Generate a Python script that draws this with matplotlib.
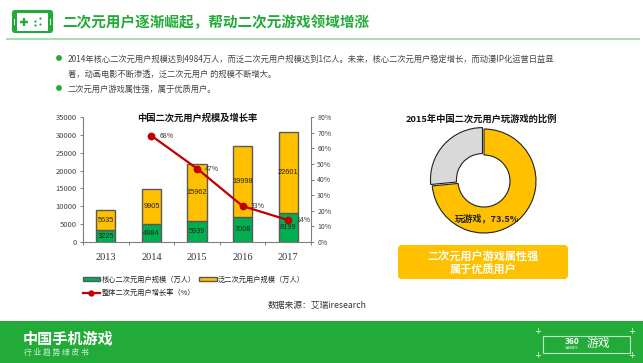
import matplotlib
matplotlib.use("Agg")
import matplotlib.pyplot as plt
from matplotlib.lines import Line2D
from matplotlib.patches import FancyBboxPatch, Circle, Rectangle, Patch

plt.rcParams["font.family"] = ["Noto Sans CJK SC", "DejaVu Sans"]

W, H = 643, 363

years = ["2013", "2014", "2015", "2016", "2017"]
core_users = [3225, 4984, 5939, 7008, 8199]
pan_users = [5635, 9905, 15962, 19998, 22601]
rate_years = [1, 2, 3, 4]
growth_rate = [68, 47, 23, 14]
left_ticks = [0, 5000, 10000, 15000, 20000, 25000, 30000, 35000]
right_ticks = [0, 10, 20, 30, 40, 50, 60, 70, 80]
share_values = [73.5, 26.5]

GREEN = "#22AB38"
BAR_GREEN = "#00B050"
YELLOW = "#FFC000"
RED = "#C00000"
GREY = "#7F7F7F"


def axes_px(fig, x0, y0, x1, y1, **kwargs):
    # pixel box, y measured from the top of the image
    return fig.add_axes([x0 / W, 1 - y1 / H, (x1 - x0) / W, (y1 - y0) / H], **kwargs)


fig = plt.figure(figsize=(W / 100, H / 100), dpi=100, facecolor="white")

# bar + line chart
ax = axes_px(fig, 83, 117, 311, 242)
x = range(len(years))
ax.bar(x, core_users, width=0.42, color=BAR_GREEN, edgecolor="#595959", linewidth=1, zorder=2)
ax.bar(x, pan_users, width=0.42, bottom=core_users, color=YELLOW, edgecolor="#595959",
       linewidth=1, zorder=2)
for i in x:
    ax.text(i, core_users[i] / 2, str(core_users[i]), ha="center", va="center", fontsize=5.3,
            color="#222222", family=["Liberation Sans"], zorder=6)
    ax.text(i, core_users[i] + pan_users[i] / 2, str(pan_users[i]), ha="center", va="center",
            fontsize=5.3, color="#222222", family=["Liberation Sans"], zorder=6)
ax.set_xlim(-0.5, 4.5)
ax.set_ylim(0, 35000)
ax.set_yticks(left_ticks)
ax.tick_params(axis="y", labelsize=5.5, length=2.5, width=0.7, color=GREY, labelcolor="#444444", pad=2)
ax.set_xticks(list(x))
ax.set_xticklabels(years, family=["Liberation Serif"], fontsize=7.5, color="#333333")
ax.tick_params(axis="x", length=0, pad=8)
ax.set_xticks([-0.5, 0.5, 1.5, 2.5, 3.5, 4.5], minor=True)
ax.tick_params(axis="x", which="minor", length=2.5, width=0.7, color=GREY)
ax.spines["top"].set_visible(False)
ax.spines["right"].set_visible(False)
for s in ["left", "bottom"]:
    ax.spines[s].set_color(GREY)
    ax.spines[s].set_linewidth(0.8)

ax2 = ax.twinx()
ax2.plot(rate_years, growth_rate, color=RED, linewidth=1.6, marker="o", markersize=4.6, zorder=5)
for i, r in zip(rate_years, growth_rate):
    ax2.annotate(f"{r}%", (i, r), xytext=(6, 0), textcoords="offset points", fontsize=5,
                 va="center", color="#333333")
ax2.set_ylim(0, 80)
ax2.set_yticks(right_ticks)
ax2.set_yticklabels([f"{t}%" for t in right_ticks])
ax2.tick_params(axis="y", labelsize=5, length=2.5, width=0.7, color=GREY, labelcolor="#444444", pad=2)
ax2.spines["top"].set_visible(False)
ax2.spines["left"].set_visible(False)
ax2.spines["bottom"].set_visible(False)
ax2.spines["right"].set_color(GREY)
ax2.spines["right"].set_linewidth(0.8)

handles = [
    Patch(facecolor=BAR_GREEN, edgecolor="#595959", label="核心二次元用户规模（万人）"),
    Line2D([], [], color=RED, linewidth=1.6, marker="o", markersize=3.5, label="整体二次元用户增长率（%）"),
    Patch(facecolor=YELLOW, edgecolor="#595959", label="泛二次元用户规模（万人）"),
]
fig.legend(handles=handles, ncol=2, frameon=False, fontsize=5.2, loc="upper left",
           bbox_to_anchor=(79 / W, 1 - 272 / H), handlelength=2.4, handleheight=0.5,
           columnspacing=0.5, labelspacing=0.75, handletextpad=0.2, borderpad=0, labelcolor="#222222")

# donut
ax3 = axes_px(fig, 484 - 57.2, 181 - 57.2, 484 + 57.2, 181 + 57.2)
ax3.pie(share_values, colors=[YELLOW, "#D9D9D9"], startangle=90, counterclock=False, radius=1,
        explode=[0, 0.04], wedgeprops={"width": 0.5, "edgecolor": "#222222", "linewidth": 0.8})
ax3.set_xlim(-1.1, 1.1)
ax3.set_ylim(-1.1, 1.1)

# slide decoration and text, pixel coordinates
bg = axes_px(fig, 0, 0, W, H, zorder=5)
bg.set_xlim(0, W)
bg.set_ylim(H, 0)
bg.axis("off")

# header icon
bg.add_patch(FancyBboxPatch((12.5, 10.5), 40, 22, boxstyle="round,pad=0,rounding_size=2.5", fc=GREEN, ec=GREEN, lw=0.8))
bg.add_patch(Rectangle((17, 12.5), 31, 18, fc="white", ec="none"))
bg.add_patch(Rectangle((14, 19), 1.2, 6, fc="white", ec="none"))
bg.add_patch(Rectangle((49.8, 19), 1.2, 6, fc="white", ec="none"))
bg.plot([20, 28], [22, 22], color=GREEN, linewidth=1.7, solid_capstyle="butt")
bg.plot([24, 24], [18, 26], color=GREEN, linewidth=1.7, solid_capstyle="butt")
for px, py in [(40.5, 18.5), (35.5, 21.5), (40.5, 24.5), (35.5, 25.5)]:
    bg.add_patch(Circle((px, py), 1.1, fc=GREEN, ec="none"))
bg.text(62, 22, "二次元用户逐渐崛起，帮动二次元游戏领域增涨", color=GREEN, fontsize=10.5,
        fontweight="bold", ha="left", va="center")
bg.plot([6, 640], [39, 39], color="#A9DDB3", linewidth=1.5, solid_capstyle="butt")

bg.add_patch(Circle((59, 58), 2.9, fc=GREEN, ec="none"))
bg.add_patch(Circle((59, 88), 2.9, fc=GREEN, ec="none"))
bg.text(67.5, 59, "2014年核心二次元用户规模达到4984万人，而泛二次元用户规模达到1亿人。未来，核心二次元用户稳定增长，而动漫IP化运营日益显",
        fontsize=5.96, color="#444444", va="center")
bg.text(67.5, 74, "著，动画电影不断渗透，泛二次元用户 的规模不断增大。", fontsize=5.96, color="#444444", va="center")
bg.text(67.5, 89, "二次元用户游戏属性强，属于优质用户。", fontsize=5.96, color="#444444", va="center")

bg.text(197, 118, "中国二次元用户规模及增长率", fontsize=6.7, fontweight="bold", color="#111111",
        ha="center", va="center")
bg.text(481, 119, "2015年中国二次元用户玩游戏的比例", fontsize=6.7, fontweight="bold", color="#111111",
        ha="center", va="center")
bg.text(487, 218.5, "玩游戏，73.5%", fontsize=6.6, fontweight="bold", color="#222222", ha="center", va="center")
bg.text(317.5, 305, "数据来源：艾瑞iresearch", fontsize=6.3, color="#333333", ha="center", va="center")

bg.add_patch(FancyBboxPatch((398, 245), 170, 34, boxstyle="round,pad=0,rounding_size=4", fc=YELLOW, ec="none"))
bg.text(483.5, 256, "二次元用户游戏属性强", fontsize=8, fontweight="bold", color="white", ha="center", va="center")
bg.text(483.5, 269, "属于优质用户", fontsize=8, fontweight="bold", color="white", ha="center", va="center")

# footer
bg.add_patch(Rectangle((0, 321), W, 42, fc=GREEN, ec="none"))
bg.text(23, 338.5, "中国手机游戏", fontsize=10.9, fontweight="bold", color="white", va="center")
bg.text(24, 353, "行 业 趋 势 绿 皮 书", fontsize=5.6, color="#D5F0DA", va="center")
bg.add_patch(Rectangle((543, 336), 87, 16.5, fc="none", ec="#BFE6C6", lw=0.8))
bg.text(572, 342, "360", fontsize=6, fontweight="bold", color="white", ha="center", va="center")
bg.text(572, 348, "GAMES", fontsize=3, color="white", ha="center", va="center")
bg.text(598, 344, "游戏", fontsize=8.5, color="white", ha="center", va="center")
for px, py in [(538, 331), (632, 331), (538, 356), (632, 356)]:
    bg.text(px, py, "+", fontsize=6, color="white", ha="center", va="center", family=["DejaVu Sans"])

fig.savefig("out.png", dpi=100)
